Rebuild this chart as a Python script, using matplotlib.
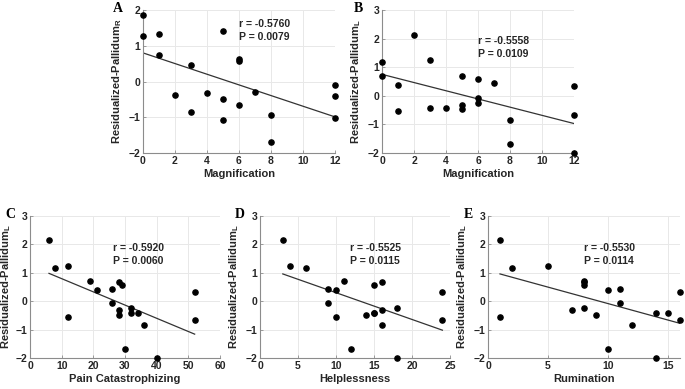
import numpy as np
import matplotlib
matplotlib.use("Agg")
import matplotlib.pyplot as plt
import matplotlib.transforms as mtransforms

plt.rcParams['font.family'] = ['Liberation Sans', 'DejaVu Sans']
plt.rcParams['mathtext.fontset'] = 'custom'
plt.rcParams['mathtext.bf'] = 'Liberation Sans:bold'
plt.rcParams['mathtext.rm'] = 'Liberation Sans:bold'

# panel A: magnification vs right pallidum
mag_a = [0, 0, 1, 1, 3, 2, 3, 4, 5, 5, 5, 6, 6, 6, 7, 8, 8, 12, 12, 12]
pal_a = [1.85, 1.26, 1.33, 0.75, 0.45, -0.37, -0.84, -0.32, 1.41, -0.48,
         -1.09, 0.63, 0.57, -0.67, -0.28, -0.93, -1.70, -0.11, -0.40, -1.03]
fit_a = [0.80, -0.99]

# panel B: magnification vs left pallidum
mag_b = [0, 0, 1, 1, 2, 3, 3, 4, 5, 5, 5, 6, 6, 6, 7, 8, 8, 12, 12, 12]
pal_b = [1.17, 0.70, 0.39, -0.54, 2.14, 1.24, -0.42, -0.41, 0.69, -0.32,
         -0.47, 0.57, -0.07, -0.25, 0.44, -0.85, -1.69, 0.34, -0.67, -1.99]
fit_b = [0.75, -0.97]

# left pallidum values shared by C, D, E
pal_l = [2.14, 1.17, 1.24, -0.54, 0.70, 0.39, 0.44, -0.07, 0.69, 0.57,
         -0.32, -0.48, -1.69, -0.25, -0.42, -0.41, -0.85, -1.99, 0.34, -0.67]
pcs = [6, 8, 12, 12, 19, 21, 26, 26, 28, 29, 28, 28, 30, 32, 32, 34, 36, 40, 52, 52]
fit_c = [0.98, -1.16]
helpless = [3, 6, 4, 10, 11, 10, 9, 9, 16, 15, 16, 14, 12, 18, 15, 15, 16, 18, 24, 24]
fit_d = [0.96, -1.02]
rumination = [1, 2, 5, 1, 8, 10, 11, 11, 8, 8, 7, 9, 10, 8, 14, 15, 12, 14, 16, 16]
rumination_pal = [2.14, 1.17, 1.24, -0.54, 0.69, 0.39, 0.44, -0.07, 0.70, 0.57,
                  -0.32, -0.48, -1.69, -0.25, -0.42, -0.41, -0.85, -1.99, 0.34, -0.67]
fit_e = [0.96, -0.78]

panels = [
    # rect (px), label, x, y, fit, xlim, ylim, xticks, xlabel, sub, r, p, text x, text y, label offset px, ylabel pad
    ([143, 10, 335, 153], 'A', mag_a, pal_a, fit_a, (0, 12), (-2, 2), [0, 2, 4, 6, 8, 10, 12],
     'Magnification', 'R', '-0.5760', '0.0079', 6.0, 1.43, 25, 3),
    ([382, 10, 574, 153], 'B', mag_b, pal_b, fit_b, (0, 12), (-2, 3), [0, 2, 4, 6, 8, 10, 12],
     'Magnification', 'L', '-0.5558', '0.0109', 6.0, 1.68, 24, 3),
    ([30, 216, 220, 358], 'C', pcs, pal_l, fit_c, (0, 60), (-2, 3), [0, 10, 20, 30, 40, 50, 60],
     'Pain Catastrophizing', 'L', '-0.5920', '0.0060', 26.3, 1.65, 20, 1.5),
    ([260, 216, 450, 358], 'D', helpless, pal_l, fit_d, (0, 25), (-2, 3), [0, 5, 10, 15, 20, 25],
     'Helplessness', 'L', '-0.5525', '0.0115', 11.9, 1.65, 20, 3),
    ([488, 216, 680, 358], 'E', rumination, rumination_pal, fit_e, (0, 16), (-2, 3), [0, 5, 10, 15],
     'Rumination', 'L', '-0.5530', '0.0114', 8.0, 1.65, 20, 3),
]

W, H = 685, 389
fig = plt.figure(figsize=(W / 100, H / 100), dpi=100)

for rect, lab, xs, ys, fit, xlim, ylim, xt, xlab, sub, r, p, tx, ty, off, ypad in panels:
    l, t, rr, b = rect
    ax = fig.add_axes([l / W, 1 - b / H, (rr - l) / W, (b - t) / H])
    ax.set_xlim(*xlim)
    ax.set_ylim(*ylim)
    ax.set_xticks(xt)
    ax.set_yticks(np.arange(ylim[0], ylim[1] + 1))
    ax.grid(True, color='#e8e8e8', linewidth=0.7)
    ax.set_axisbelow(True)
    for s in ['top', 'right']:
        ax.spines[s].set_visible(False)
    for s in ['left', 'bottom']:
        ax.spines[s].set_color('#8c8c8c')
        ax.spines[s].set_linewidth(0.8)
    ax.tick_params(direction='in', length=2.5, width=0.6, color='#8c8c8c',
                   labelsize=7.5, labelcolor='#262626', pad=2)
    for tl in ax.get_xticklabels() + ax.get_yticklabels():
        tl.set_fontweight('bold')
    ax.scatter(xs, ys, s=14, color='black', zorder=3, clip_on=False)
    x0, x1 = min(xs), max(xs)
    ax.plot([x0, x1], fit, color='#333333', linewidth=0.9, zorder=2)
    ax.text(tx, ty, 'r = %s\nP = %s' % (r, p), fontsize=7.5, fontweight='bold',
            color='#262626', ha='left', va='center', linespacing=1.4)
    ax.set_xlabel(xlab, fontsize=8, fontweight='bold', color='#262626', labelpad=2)
    ax.set_ylabel(r'Residualized-Pallidum$_\mathbf{%s}$' % sub, fontsize=8,
                  fontweight='bold', color='#262626', labelpad=ypad)
    trans = ax.transAxes + mtransforms.ScaledTranslation(-off / 100, 0, fig.dpi_scale_trans)
    ax.text(0, 1.01, lab, transform=trans, fontsize=10, fontweight='bold',
            family='Liberation Serif', ha='center', va='center')

fig.savefig('out.png', dpi=100)
